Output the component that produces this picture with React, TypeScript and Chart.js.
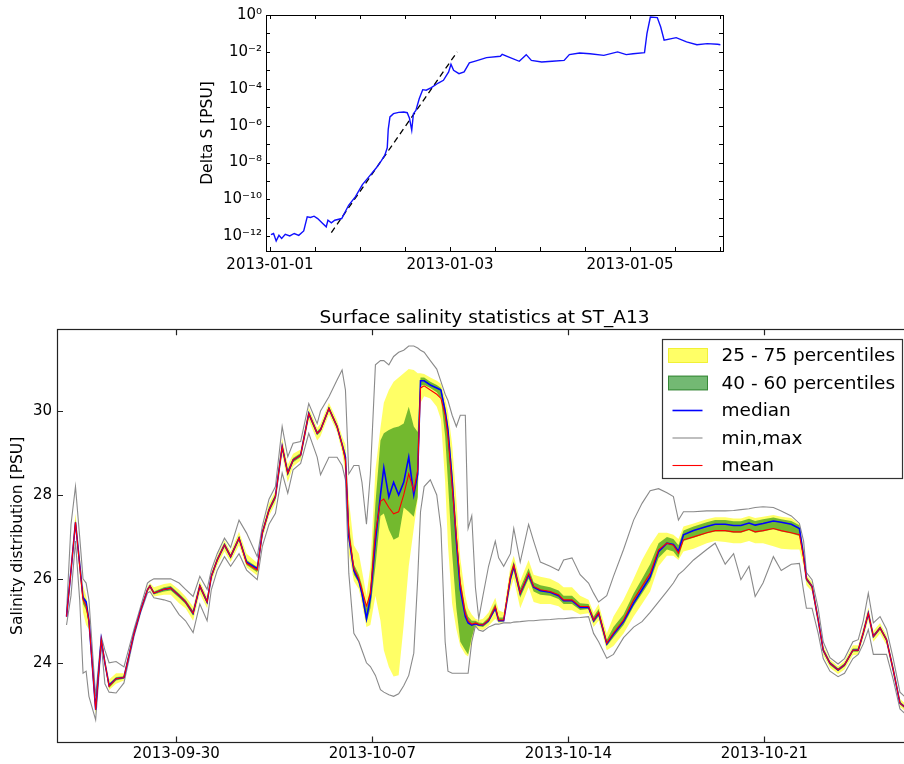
import React, { useEffect, useRef } from 'react';
import { Chart, registerables } from 'chart.js';
Chart.register(...registerables);

const FONT = "'DejaVu Sans', 'Liberation Sans', sans-serif";

// ---------- Top panel: Delta S (log scale), x = days since 2013-01-01 ----------
const topTickValues = [0, 2, 4];
const topTickLabels = ['2013-01-01', '2013-01-03', '2013-01-05'];
const topMinorTicks = [0, 0.5, 1, 1.5, 2, 2.5, 3, 3.5, 4, 4.5, 5];
const topDecades = [-12, -11, -10, -9, -8, -7, -6, -5, -4, -3, -2, -1, 0];

const topDays = [0.011,0.04,0.069,0.10,0.13,0.17,0.22,0.27,0.32,0.375,0.414,0.45,0.49,0.53,0.586,0.625,0.644,0.682,0.72,0.797,
  0.874,0.95,1.027,1.103,1.18,1.238,1.276,1.303,1.314,1.333,1.372,1.43,1.487,1.525,1.55,1.575,1.594,1.621,1.659,1.697,
  1.736,1.793,1.87,1.927,1.985,2.011,2.04,2.1,2.157,2.215,2.29,2.406,2.56,2.58,2.655,2.77,2.847,2.904,3.019,3.134,
  3.268,3.326,3.44,3.556,3.709,3.862,3.958,4.034,4.161,4.188,4.226,4.303,4.341,4.379,4.513,4.628,4.743,4.858,4.973,5.004];
// log10 of Delta S
const topExp = [-11.91,-11.85,-12.25,-11.95,-12.12,-11.9,-11.98,-11.85,-11.95,-11.71,-10.95,-10.98,-10.91,-11.04,-11.31,-11.49,-11.13,-11.27,-11.13,-11.04,
  -10.32,-9.85,-9.2,-8.75,-8.3,-7.9,-7.6,-7.2,-6.2,-5.53,-5.35,-5.28,-5.26,-5.3,-5.6,-6.25,-5.35,-5.17,-4.53,-4.05,
  -4.08,-3.94,-3.69,-3.54,-3.09,-2.67,-3.0,-3.18,-3.09,-2.6,-2.49,-2.31,-2.24,-2.13,-2.28,-2.51,-2.15,-2.46,-2.55,-2.51,
  -2.46,-2.15,-2.06,-2.1,-2.19,-2.0,-2.15,-2.1,-2.04,-1.01,-0.11,-0.14,-0.65,-1.37,-1.23,-1.46,-1.61,-1.55,-1.59,-1.61];
const fitDays = [0.682, 2.08];
const fitExp = [-11.8, -2.0];

// ---------- Bottom panel: salinity statistics, x = days since 2013-09-30 ----------
const botTickValues = [0, 7, 14, 21];
const botTickLabels = ['2013-09-30', '2013-10-07', '2013-10-14', '2013-10-21'];
const botYTicks = [24, 26, 28, 30];

const days = [-3.92,-3.76,-3.60,-3.45,-3.33,-3.22,-3.12,-2.88,-2.68,-2.55,
  -2.40,-2.15,-1.87,-1.51,-1.27,-1.03,-0.94,-0.80,-0.44,-0.20,
  0.10,0.33,0.60,0.84,1.10,1.25,1.46,1.72,1.94,2.24,
  2.51,2.89,3.07,3.31,3.54,3.78,3.98,4.17,4.44,4.73,
  5.03,5.15,5.45,5.74,5.92,6.04,6.16,6.34,6.52,6.63,
  6.79,6.93,7.11,7.29,7.41,7.59,7.76,7.94,8.12,8.30,
  8.48,8.62,8.72,8.85,9.07,9.30,9.45,9.60,9.70,9.85,
  10.00,10.14,10.32,10.42,10.55,10.68,10.80,10.95,11.15,11.39,
  11.51,11.69,11.93,12.05,12.28,12.58,12.76,13.00,13.35,13.65,
  13.83,14.13,14.42,14.72,14.90,15.08,15.37,15.61,15.97,16.33,
  16.63,16.92,17.22,17.52,17.75,17.93,18.11,18.47,18.94,19.24,
  19.60,19.90,20.16,20.45,20.67,20.95,21.32,21.60,21.96,22.25,
  22.40,22.50,22.70,22.92,23.10,23.34,23.63,23.86,24.16,24.35,
  24.53,24.71,24.89,25.13,25.36,25.60,25.84,26.00];

const meanS = [25.10,26.20,27.35,26.30,25.50,25.35,25.00,22.88,24.55,24.00,
  23.44,23.62,23.65,24.70,25.26,25.74,25.83,25.66,25.75,25.78,
  25.60,25.45,25.18,25.83,25.45,26.06,26.45,26.81,26.53,26.97,
  26.37,26.21,27.09,27.64,27.96,29.15,28.52,28.83,28.95,29.94,
  29.47,29.55,30.06,29.63,29.20,28.83,27.10,26.25,26.00,25.74,
  25.35,25.66,27.09,27.85,27.90,27.70,27.55,27.60,28.00,28.50,
  28.10,28.60,30.55,30.60,30.50,30.40,30.30,29.90,29.40,28.20,
  27.00,25.90,25.18,25.00,24.92,24.95,24.92,24.90,25.02,25.34,
  25.02,25.02,26.06,26.33,25.66,26.13,25.82,25.74,25.70,25.62,
  25.50,25.50,25.34,25.34,25.02,25.20,24.47,24.71,25.02,25.50,
  25.82,26.13,26.69,26.85,26.80,26.61,26.93,27.00,27.10,27.15,
  27.15,27.12,27.12,27.18,27.12,27.15,27.20,27.15,27.10,27.05,
  26.50,26.00,25.82,25.02,24.30,23.99,23.83,23.95,24.30,24.30,
  24.71,25.18,24.63,24.83,24.55,23.83,23.04,22.95];

const medianS = [25.10,26.20,27.35,26.35,25.55,25.45,25.00,22.88,24.55,24.00,
  23.46,23.62,23.65,24.70,25.26,25.74,25.83,25.66,25.75,25.78,
  25.60,25.45,25.18,25.83,25.45,26.06,26.45,26.81,26.53,26.97,
  26.40,26.24,27.09,27.64,27.96,29.15,28.52,28.83,28.95,29.94,
  29.47,29.55,30.06,29.63,29.20,28.90,27.00,26.20,25.95,25.65,
  25.05,25.55,26.90,28.00,28.65,27.95,28.30,28.00,28.30,28.90,
  28.00,28.50,30.72,30.72,30.62,30.55,30.50,30.00,29.55,28.35,
  26.90,25.75,25.10,24.95,24.90,24.93,24.90,24.90,25.00,25.30,
  25.00,25.00,26.00,26.30,25.65,26.10,25.80,25.72,25.68,25.60,
  25.48,25.48,25.32,25.32,25.00,25.18,24.45,24.68,24.98,25.42,
  25.74,26.05,26.65,26.85,26.82,26.66,27.05,27.15,27.25,27.30,
  27.30,27.27,27.27,27.33,27.28,27.32,27.38,27.35,27.30,27.20,
  26.55,26.00,25.82,25.02,24.30,23.99,23.83,23.95,24.30,24.30,
  24.71,25.18,24.63,24.83,24.55,23.83,23.04,22.95];

const p25S = [25.00,26.05,27.20,26.10,25.20,24.90,24.80,22.75,24.48,23.90,
  23.35,23.50,23.58,24.65,25.21,25.68,25.74,25.58,25.62,25.62,
  25.42,25.30,25.00,25.65,25.30,25.92,26.32,26.65,26.40,26.80,
  26.27,26.08,26.95,27.50,27.80,28.95,28.30,28.68,28.82,29.78,
  29.30,29.40,29.92,29.50,29.02,28.50,26.60,25.95,25.75,25.40,
  24.85,24.90,25.60,25.00,24.30,23.90,23.67,23.70,24.90,26.30,
  27.20,27.90,30.20,30.35,30.30,30.10,29.80,28.30,26.80,25.40,
  24.80,24.40,24.20,24.15,24.50,24.88,24.80,24.78,24.88,25.05,
  24.95,24.96,25.75,26.00,25.30,25.80,25.45,25.40,25.40,25.35,
  25.25,25.25,25.15,25.18,24.85,25.00,24.30,24.40,24.70,25.10,
  25.40,25.70,26.30,26.55,26.55,26.45,26.65,26.72,26.85,26.90,
  26.88,26.85,26.85,26.90,26.85,26.85,26.78,26.72,26.70,26.70,
  26.30,25.85,25.70,24.88,24.18,23.88,23.73,23.84,24.18,24.20,
  24.58,25.02,24.50,24.70,24.42,23.72,22.95,22.86];

const p40S = [25.06,26.15,27.30,26.25,25.40,25.25,24.92,22.84,24.52,23.96,
  23.40,23.58,23.62,24.68,25.24,25.72,25.80,25.63,25.70,25.72,
  25.55,25.40,25.12,25.77,25.40,26.01,26.40,26.76,26.48,26.92,
  26.33,26.16,27.04,27.59,27.90,29.08,28.45,28.78,28.90,29.88,
  29.42,29.50,30.01,29.58,29.14,28.75,26.90,26.10,25.90,25.55,
  24.95,25.30,26.30,27.50,27.56,27.17,26.93,27.00,27.70,27.60,
  27.48,27.95,30.60,30.62,30.55,30.45,30.30,29.40,28.30,26.60,
  25.30,24.50,24.30,24.20,24.60,24.90,24.87,24.85,24.96,25.25,
  24.98,24.99,25.92,26.20,25.55,26.00,25.70,25.62,25.60,25.52,
  25.40,25.40,25.26,25.28,24.95,25.10,24.40,24.60,24.90,25.35,
  25.65,25.95,26.50,26.70,26.65,26.50,26.90,26.98,27.08,27.13,
  27.13,27.10,27.10,27.16,27.10,27.13,27.18,27.13,27.08,27.02,
  26.45,25.95,25.78,24.97,24.26,23.95,23.80,23.91,24.26,24.26,
  24.67,25.13,24.59,24.79,24.51,23.79,23.01,22.92];

const p60S = [25.14,26.25,27.42,26.40,25.60,25.50,25.08,22.92,24.58,24.04,
  23.50,23.66,23.68,24.72,25.28,25.76,25.86,25.70,25.80,25.83,
  25.65,25.50,25.24,25.88,25.50,26.11,26.50,26.86,26.58,27.02,
  26.45,26.28,27.14,27.70,28.02,29.22,28.60,28.88,29.00,30.00,
  29.52,29.60,30.11,29.68,29.26,29.00,27.30,26.35,26.10,25.85,
  25.30,25.80,27.80,29.30,29.47,29.55,29.60,29.63,29.70,30.10,
  29.63,29.50,30.80,30.80,30.70,30.62,30.55,30.10,29.70,28.60,
  27.20,26.00,25.30,25.10,25.00,25.00,24.96,24.95,25.08,25.42,
  25.08,25.08,26.15,26.42,25.78,26.25,25.92,25.85,25.80,25.72,
  25.60,25.60,25.42,25.40,25.10,25.28,24.55,24.85,25.15,25.65,
  26.00,26.35,26.85,27.00,26.95,26.80,27.15,27.25,27.35,27.40,
  27.40,27.37,27.37,27.43,27.38,27.42,27.46,27.42,27.38,27.28,
  26.60,26.05,25.86,25.07,24.34,24.03,23.87,23.99,24.34,24.34,
  24.75,25.23,24.67,24.87,24.59,23.87,23.08,22.98];

const p75S = [25.18,26.40,27.55,26.55,25.85,25.60,25.20,23.00,24.62,24.12,
  23.60,23.75,23.75,24.76,25.31,25.82,25.90,25.80,25.88,25.90,
  25.74,25.58,25.34,25.95,25.58,26.16,26.55,26.92,26.65,27.12,
  26.60,26.38,27.20,27.80,28.10,29.35,28.72,28.98,29.08,30.08,
  29.60,29.70,30.20,29.78,29.40,29.20,27.90,26.80,26.60,26.20,
  25.60,26.30,28.60,29.60,30.20,30.50,30.70,30.80,30.90,31.00,
  30.98,30.90,30.90,30.88,30.80,30.72,30.65,30.30,30.00,29.20,
  27.90,26.50,25.60,25.30,25.15,25.05,25.02,25.05,25.20,25.55,
  25.25,25.20,26.30,26.55,25.95,26.45,26.10,26.05,26.00,25.90,
  25.80,25.80,25.60,25.50,25.20,25.40,24.70,25.10,25.50,26.00,
  26.45,26.80,27.10,27.10,27.05,26.95,27.25,27.32,27.42,27.47,
  27.47,27.44,27.44,27.50,27.45,27.48,27.52,27.48,27.45,27.30,
  26.75,26.10,25.92,25.15,24.42,24.08,23.92,24.05,24.42,24.42,
  24.84,25.32,24.76,24.95,24.66,23.95,23.14,23.04];

const minS = [24.90,25.60,26.90,25.50,23.75,23.80,23.20,22.64,24.45,23.50,
  23.30,23.28,23.52,24.63,25.20,25.66,25.70,25.55,25.50,25.45,
  25.15,25.00,24.72,25.40,25.00,25.74,26.20,26.53,26.30,26.60,
  26.21,25.98,26.77,27.30,27.56,28.52,28.04,28.60,28.75,29.47,
  28.90,28.48,28.90,28.90,28.70,28.36,26.13,24.70,24.50,24.30,
  24.00,23.91,23.70,23.36,23.30,23.24,23.20,23.26,23.45,23.70,
  24.23,26.00,27.60,28.20,28.36,28.00,27.20,24.50,23.80,23.75,
  23.75,23.75,23.75,23.75,24.50,24.88,24.78,24.75,24.85,24.92,
  24.92,24.95,24.95,24.97,24.98,25.00,25.00,25.02,25.03,25.05,
  25.05,25.07,25.08,25.10,24.70,24.50,24.11,24.20,24.60,24.85,
  24.98,25.20,25.45,25.70,25.90,26.10,26.20,26.45,26.70,26.85,
  26.35,26.60,25.98,26.30,25.58,25.90,26.53,26.20,26.35,26.37,
  25.70,25.30,25.30,24.70,24.10,23.80,23.67,23.75,24.10,24.20,
  24.45,24.79,24.20,24.20,24.20,23.60,22.90,22.80];

const maxS = [25.20,27.30,28.20,27.00,26.00,25.90,25.50,23.20,24.63,24.30,
  24.00,24.03,23.90,24.80,25.35,25.90,25.95,26.00,26.00,26.00,
  25.90,25.75,25.58,26.06,25.75,26.21,26.60,26.97,26.75,27.40,
  27.09,26.53,27.25,27.90,28.20,29.63,28.91,29.23,29.27,30.18,
  29.70,30.00,30.34,30.74,30.98,30.50,28.50,28.70,28.70,28.30,
  27.30,28.50,31.10,31.20,31.20,31.10,31.30,31.40,31.45,31.55,
  31.55,31.50,31.45,31.40,31.20,31.00,30.70,30.40,30.25,29.90,
  29.63,29.90,29.90,27.20,27.50,25.80,25.05,25.60,26.30,26.90,
  26.50,26.30,26.60,27.20,26.40,27.30,26.90,26.40,26.30,26.20,
  26.45,26.50,26.10,25.90,25.66,25.45,25.60,26.06,26.70,27.40,
  27.80,28.10,28.15,28.05,27.96,27.40,27.60,27.60,27.62,27.62,
  27.62,27.63,27.65,27.67,27.70,27.72,27.70,27.62,27.50,27.32,
  26.90,26.15,25.98,25.30,24.50,24.12,23.97,24.10,24.50,24.55,
  25.00,25.66,24.95,25.10,24.80,24.10,23.30,23.20];

const legendOrder = [1, 3, 6, 4, 7];

// ---------- helpers ----------
const SUP: Record<string, string> = { '0': '\u2070', '1': '\u00b9', '2': '\u00b2', '3': '\u00b3', '4': '\u2074', '5': '\u2075', '6': '\u2076', '7': '\u2077', '8': '\u2078', '9': '\u2079', '-': '\u207b' };
const sup = (n: number) => String(n).split('').map((c) => SUP[c] || c).join('');

const frameTicksPlugin = {
  id: 'frameTicks',
  afterDatasetsDraw(chart: any, _args: any, opts: any) {
    const { ctx, chartArea: a } = chart;
    const len = opts.len ?? 5;
    ctx.save();
    ctx.strokeStyle = opts.color || '#000';
    ctx.lineWidth = opts.lineWidth || 1;
    ctx.beginPath();
    const xs = chart.scales.x;
    const ys = chart.scales.y;
    for (const t of xs.ticks) {
      const p = Math.round(xs.getPixelForValue(t.value)) + 0.5;
      if (p <= a.left + 1 || p >= a.right - 1) continue;
      ctx.moveTo(p, a.bottom); ctx.lineTo(p, a.bottom - len);
      ctx.moveTo(p, a.top); ctx.lineTo(p, a.top + len);
    }
    for (const t of ys.ticks) {
      const p = Math.round(ys.getPixelForValue(t.value)) + 0.5;
      if (p <= a.top + 1 || p >= a.bottom - 1) continue;
      ctx.moveTo(a.left, p); ctx.lineTo(a.left + len, p);
      ctx.moveTo(a.right, p); ctx.lineTo(a.right - len, p);
    }
    ctx.stroke();
    ctx.strokeRect(Math.round(a.left) + 0.5, Math.round(a.top) + 0.5, Math.round(a.right - a.left), Math.round(a.bottom - a.top));
    ctx.restore();
  },
};

const boxLegendPlugin = {
  id: 'boxLegend',
  afterDraw(chart: any, _args: any, opts: any) {
    const { ctx, chartArea: a } = chart;
    const w = 240, h = 139;
    const x0 = Math.round(a.right - 10 - w) + 0.5;
    const y0 = Math.round(a.top + 10) + 0.5;
    ctx.save();
    ctx.fillStyle = '#ffffff';
    ctx.fillRect(x0, y0, w, h);
    ctx.strokeStyle = '#333333';
    ctx.lineWidth = 1.2;
    ctx.strokeRect(x0, y0, w, h);
    ctx.font = `18.5px ${FONT}`;
    ctx.textBaseline = 'middle';
    ctx.textAlign = 'left';
    (opts.items as number[]).forEach((di, i) => {
      const ds = chart.data.datasets[di];
      const cy = y0 + 16 + i * 27.5;
      if (ds.fill) {
        ctx.fillStyle = ds.backgroundColor;
        ctx.fillRect(x0 + 6, cy - 7, 39, 14);
        ctx.strokeStyle = ds.legendEdge || ds.backgroundColor;
        ctx.lineWidth = 1;
        ctx.strokeRect(x0 + 6, cy - 7, 39, 14);
      } else {
        ctx.strokeStyle = ds.borderColor;
        ctx.lineWidth = ds.borderWidth;
        ctx.beginPath();
        ctx.moveTo(x0 + 10, cy);
        ctx.lineTo(x0 + 40, cy);
        ctx.stroke();
      }
      ctx.fillStyle = '#000';
      ctx.fillText(ds.label, x0 + 59, cy + 1);
    });
    ctx.restore();
  },
};

const xy = (xs: number[], ys: number[]) => xs.map((x, i) => ({ x, y: ys[i] }));

export default function App() {
  const topRef = useRef<HTMLCanvasElement>(null);
  const botRef = useRef<HTMLCanvasElement>(null);

  useEffect(() => {
    const tickFont = { family: FONT, size: 15 };
    const top = new Chart(topRef.current as HTMLCanvasElement, {
      type: 'line',
      data: {
        datasets: [
          {
            label: 'Delta S',
            data: topDays.map((d, i) => ({ x: d, y: Math.pow(10, topExp[i]) })),
            borderColor: '#1010ff',
            borderWidth: 1.4,
            pointRadius: 0,
            fill: false,
            tension: 0,
          },
          {
            label: 'fit',
            data: fitDays.map((d, i) => ({ x: d, y: Math.pow(10, fitExp[i]) })),
            borderColor: '#000000',
            borderWidth: 1.3,
            borderDash: [6, 4],
            pointRadius: 0,
            fill: false,
          },
        ],
      } as any,
      options: {
        animation: false,
        responsive: false,
        devicePixelRatio: 1,
        events: [],
        layout: { padding: { left: 186, right: 181, top: 15, bottom: 0 } },
        plugins: {
          legend: { display: false },
          tooltip: { enabled: false },
          title: { display: false },
          frameTicks: { len: 4, color: '#000', lineWidth: 1 },
        } as any,
        scales: {
          x: {
            type: 'linear',
            min: -0.044,
            max: 5.033,
            afterBuildTicks: (s: any) => { s.ticks = topMinorTicks.map((v) => ({ value: v })); },
            afterFit: (s: any) => { s.height = 39; },
            grid: { display: false, drawTicks: false },
            border: { display: false },
            ticks: {
              autoSkip: false, maxRotation: 0, minRotation: 0, padding: 5, color: '#000', font: tickFont,
              callback: (v: any) => { const i = topTickValues.indexOf(Number(v)); return i >= 0 ? topTickLabels[i] : ''; },
            },
          },
          y: {
            type: 'logarithmic',
            min: Math.pow(10, -12.8),
            max: 1,
            afterBuildTicks: (s: any) => { s.ticks = topDecades.map((e) => ({ value: Math.pow(10, e) })); },
            afterFit: (s: any) => { s.width = 80; },
            grid: { display: false, drawTicks: false },
            border: { display: false },
            ticks: {
              autoSkip: false, padding: 4, color: '#000', font: tickFont,
              callback: (v: any) => { const e = Math.round(Math.log10(Number(v))); return e % 2 === 0 ? '10' + sup(e) : ''; },
            },
            title: { display: true, text: 'Delta S [PSU]', color: '#000', font: { family: FONT, size: 15.5 }, padding: { top: 13, bottom: 0 } },
          },
        } as any,
      },
      plugins: [frameTicksPlugin],
    } as any);

    const bot = new Chart(botRef.current as HTMLCanvasElement, {
      type: 'line',
      data: {
        datasets: [
          { label: '25 percentile', data: xy(days, p25S), borderColor: 'rgba(0,0,0,0)', borderWidth: 0, pointRadius: 0, fill: false, order: 10 },
          { label: '25 - 75 percentiles', data: xy(days, p75S), borderColor: 'rgba(0,0,0,0)', borderWidth: 0, pointRadius: 0, fill: '-1', backgroundColor: 'rgba(255,255,0,0.6)', legendEdge: 'rgba(235,235,0,0.7)', order: 9 },
          { label: '40 percentile', data: xy(days, p40S), borderColor: 'rgba(0,0,0,0)', borderWidth: 0, pointRadius: 0, fill: false, order: 8 },
          { label: '40 - 60 percentiles', data: xy(days, p60S), borderColor: 'rgba(0,0,0,0)', borderWidth: 0, pointRadius: 0, fill: '-1', backgroundColor: 'rgba(0,128,0,0.55)', legendEdge: 'rgba(0,100,0,0.7)', order: 7 },
          { label: 'min,max', data: xy(days, minS), borderColor: '#8a8a8a', borderWidth: 1.1, pointRadius: 0, fill: false, order: 6 },
          { label: 'max', data: xy(days, maxS), borderColor: '#8a8a8a', borderWidth: 1.1, pointRadius: 0, fill: false, order: 5 },
          { label: 'median', data: xy(days, medianS), borderColor: '#0000ff', borderWidth: 1.6, pointRadius: 0, fill: false, order: 4 },
          { label: 'mean', data: xy(days, meanS), borderColor: '#ff0000', borderWidth: 1.1, pointRadius: 0, fill: false, order: 3 },
        ],
      } as any,
      options: {
        animation: false,
        responsive: false,
        devicePixelRatio: 1,
        events: [],
        layout: { padding: { left: 0, right: 8, top: 10, bottom: 0 } },
        plugins: {
          legend: { display: false },
          tooltip: { enabled: false },
          title: {
            display: true, text: 'Surface salinity statistics at ST_A13', fullSize: false, color: '#000',
            font: { family: FONT, size: 18.5, weight: 'normal' }, padding: { top: 7, bottom: 0 },
          },
          frameTicks: { len: 6, color: '#222', lineWidth: 1.2 },
          boxLegend: { items: legendOrder },
        } as any,
        scales: {
          x: {
            type: 'linear',
            min: -4.26,
            max: 26.27,
            afterBuildTicks: (s: any) => { s.ticks = botTickValues.map((v) => ({ value: v })); },
            afterFit: (s: any) => { s.height = 21.5; },
            grid: { display: false, drawTicks: false },
            border: { display: false },
            ticks: {
              autoSkip: false, maxRotation: 0, minRotation: 0, padding: 3, color: '#000', font: tickFont,
              callback: (v: any) => { const i = botTickValues.indexOf(Number(v)); return i >= 0 ? botTickLabels[i] : ''; },
            },
          },
          y: {
            type: 'linear',
            min: 22.1,
            max: 31.95,
            afterBuildTicks: (s: any) => { s.ticks = botYTicks.map((v) => ({ value: v })); },
            afterFit: (s: any) => { s.width = 57; },
            grid: { display: false, drawTicks: false },
            border: { display: false },
            ticks: { autoSkip: false, padding: 5, color: '#000', font: tickFont, callback: (v: any) => String(v) },
            title: { display: true, text: 'Salinity distribution [PSU]', color: '#000', font: { family: FONT, size: 15.5 }, padding: { top: 9, bottom: 0 } },
          },
        } as any,
      },
      plugins: [frameTicksPlugin, boxLegendPlugin],
    } as any);

    return () => { top.destroy(); bot.destroy(); };
  }, []);

  return (
    <div style={{ position: 'fixed', left: 0, top: 0, width: 904, height: 764, overflow: 'hidden', background: '#ffffff' }}>
      <canvas ref={topRef} width={904} height={290} style={{ position: 'absolute', left: 0, top: 0, width: 904, height: 290 }} />
      <canvas ref={botRef} width={920} height={474} style={{ position: 'absolute', left: 0, top: 290, width: 920, height: 474 }} />
    </div>
  );
}
